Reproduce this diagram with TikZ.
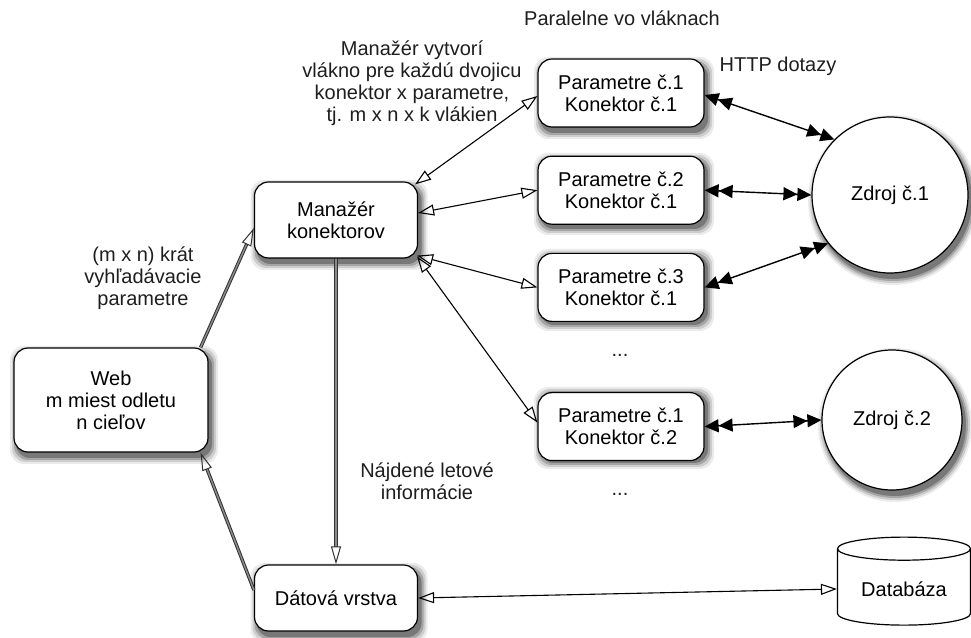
\documentclass[tikz,border=0pt]{standalone}
\usepackage{fontspec}
\setmainfont{Liberation Sans}
\usetikzlibrary{positioning, arrows.meta, shapes.geometric}

\definecolor{shA}{RGB}{235,235,235}
\definecolor{shB}{RGB}{205,205,205}
\definecolor{shC}{RGB}{165,165,165}
\definecolor{shD}{RGB}{120,120,120}
\definecolor{flowedge}{RGB}{50,50,50}
\definecolor{flowfill}{RGB}{140,140,140}
\definecolor{ink}{RGB}{30,30,30}

\begin{document}
\begin{tikzpicture}[x=1pt, y=1pt,
		font=\fontsize{20}{22}\selectfont,
		box/.style={draw, rectangle, rounded corners=14pt, align=center, line width=1.2pt, fill=white},
		src/.style={draw, circle, line width=1.2pt, fill=white, inner sep=0pt},
		lbl/.style={align=center, text=ink},
		twoway/.style={line width=1.1pt, arrows={Triangle[open, length=16pt, width=11pt]-Triangle[open, length=16pt, width=11pt]}},
		http/.style={line width=1.4pt, arrows={Triangle[length=14pt, width=13pt]Triangle[length=14pt, width=13pt]-Triangle[length=14pt, width=13pt]Triangle[length=14pt, width=13pt]}},
		flow/.style={draw=flowedge, double=flowfill, double distance=1.4pt, line width=1pt,
			arrows={-Triangle[open, length=18pt, width=10pt, line width=1pt]}}]
	\useasboundingbox (0,0) rectangle (971,637);

	% shadows first, at the same places as the boxes
	\foreach \c/\g in {shA/7, shB/5, shC/3, shD/1} {
		\foreach \x/\y/\bw/\bh in {111/237/194/104, 336/417/163/76, 336/39/163/66, 621/544/166/68, 621/448/166/68, 621/352/166/68, 621/214/166/68}
			\fill[\c, rounded corners=14] (\x-\bw/2+3-\g, \y-\bh/2-5-\g) rectangle (\x+\bw/2+3+\g, \y+\bh/2-5+\g);
		\fill[\c] (893,437) circle (78+\g);
		\fill[\c] (895,212) circle (70+\g);
	}

	% boxes
	\node[box, minimum width=194pt, minimum height=104pt] (w) at (111,237) {Web\\ m miest odletu\\ n cieľov};
	\node[box, minimum width=163pt, minimum height=76pt] (m) at (336,417) {Manažér\\ konektorov};
	\node[box, minimum width=163pt, minimum height=66pt] (d) at (336,39) {Dátová vrstva};
	\node[box, minimum width=166pt, minimum height=68pt] (p1) at (621,544) {Parametre č.1\\ Konektor č.1};
	\node[box, minimum width=166pt, minimum height=68pt, below=28pt of p1] (p2) {Parametre č.2\\ Konektor č.1};
	\node[box, minimum width=166pt, minimum height=68pt, below=28pt of p2] (p3) {Parametre č.3\\ Konektor č.1};
	\node[box, minimum width=166pt, minimum height=68pt, below=70pt of p3] (p4) {Parametre č.1\\ Konektor č.2};
	\node[src, minimum size=156pt] (z1) at (890,442) {Zdroj č.1};
	\node[src, minimum size=140pt] (z2) at (892,217) {Zdroj č.2};
	\node[draw, cylinder, shape border rotate=90, aspect=0.25, line width=1.2pt, fill=white,
		minimum width=133pt, minimum height=88pt] (db) at (904,48) {Databáza};

	% texts
	\node[lbl] (t0) at (622,619) {Paralelne vo vláknach};
	\node[lbl] (t1) at (412,554) {Manažér vytvorí\\ vlákno pre každú dvojicu\\ konektor x parametre,\\ tj. m x n x k vlákien};
	\node[lbl] (t2) at (778,571) {HTTP dotazy};
	\node[lbl] (t3) at (143,359) {(m x n) krát\\ vyhľadávacie\\ parametre};
	\node[lbl] (t4) at (427,156) {Nájdené letové\\ informácie};
	\node[lbl] (t5) at (620,282) {...};
	\node[lbl] (t6) at (620,143) {...};

	% connectors
	\draw[flow] ([xshift=-8pt]w.north east) -- ([yshift=-8pt]m.west);
	\draw[flow] ([yshift=8pt]d.west) -- ([xshift=-8pt]w.south east);
	\draw[flow] (m.south) -- (d.north);
	\draw[twoway] ([xshift=-3pt, yshift=-3pt]m.north east) -- ([yshift=-3pt]p1.west);
	\draw[twoway] ([yshift=7pt]m.east) -- (p2.west);
	\draw[twoway] ([xshift=-1pt, yshift=3pt]m.south east) -- (p3.west);
	\draw[twoway] ([xshift=-1pt, yshift=2pt]m.south east) -- ([yshift=4pt]p4.west);
	\draw[http] ([yshift=-2pt]p1.east) -- (z1.135);
	\draw[http] (p2.east) -- (z1.180);
	\draw[http] (p3.east) -- (z1.218);
	\draw[http] (p4.east) -- (z2.180);
	\draw[twoway] (d.east) -- (db.west);
\end{tikzpicture}
\end{document}
